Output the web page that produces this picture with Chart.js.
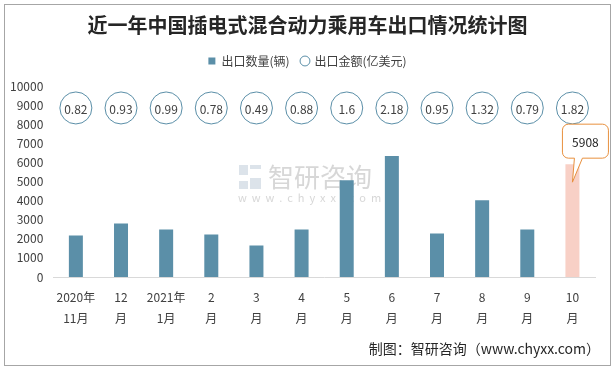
<!DOCTYPE html>
<html lang="zh">
<head>
  <meta charset="UTF-8" />
  <script src="https://cdn.jsdelivr.net/npm/chart.js"></script>
  <title>近一年中国插电式混合动力乘用车出口情况统计图</title>
  <style>
    body { margin: 0; background: #fff; }
    #box { width: 615px; height: 369px; }
  </style>
</head>
<body>
  <div id="box"><canvas id="grafico" width="615" height="369"></canvas></div>

<script>
  // dados
  const meses = [['2020年', '11月'], ['12', '月'], ['2021年', '1月'], ['2', '月'], ['3', '月'], ['4', '月'],
    ['5', '月'], ['6', '月'], ['7', '月'], ['8', '月'], ['9', '月'], ['10', '月']];
  const quantidade = [2170, 2800, 2490, 2230, 1650, 2490, 5070, 6330, 2280, 4020, 2490, 5908];
  const valor = [0.82, 0.93, 0.99, 0.78, 0.49, 0.88, 1.6, 2.18, 0.95, 1.32, 0.79, 1.82];
  const ticksY = [0, 1000, 2000, 3000, 4000, 5000, 6000, 7000, 8000, 9000, 10000];

  const FONTE = '"Noto Sans CJK SC", "Noto Sans", sans-serif';
  const AZUL = '#5b8fa8';
  const ROSA = '#f8d0c6';
  const LINHA_BOLHAS = 8850; // altura fixa das bolhas

  // espaco extra abaixo da legenda
  const margemLegenda = {
    id: 'margemLegenda',
    beforeInit(chart) {
      const fitOriginal = chart.legend.fit;
      chart.legend.fit = function () {
        fitOriginal.bind(chart.legend)();
        this.height += 9;
      };
    }
  };

  const fundo = {
    id: 'fundo',
    beforeDraw(chart) {
      const ctx = chart.ctx;
      ctx.save();
      ctx.fillStyle = '#fff';
      ctx.fillRect(0, 0, chart.width, chart.height);
      ctx.strokeStyle = '#a6a6a6';
      ctx.lineWidth = 1;
      ctx.strokeRect(4.5, 4.5, 606, 361);

      // marca d'agua
      ctx.globalAlpha = 0.5;
      ctx.fillStyle = '#b9c7d6';
      ctx.fillRect(239, 165, 9, 10);
      ctx.fillRect(250, 165, 11, 4);
      ctx.fillRect(250, 178, 11, 11);
      ctx.fillRect(239, 181, 9, 8);
      ctx.fillStyle = '#b0b0b0';
      ctx.font = '26px ' + FONTE;
      ctx.textBaseline = 'middle';
      ctx.fillText('智研咨询', 268, 177);
      ctx.font = '11px ' + FONTE;
      ctx.fillText('w  w  w  .  c  h  y  x  x  .  c  o  m', 238, 198);
      ctx.restore();
    },
    afterDraw(chart) {
      const ctx = chart.ctx;
      ctx.save();
      ctx.fillStyle = '#262626';
      ctx.font = '14px ' + FONTE;
      ctx.textAlign = 'right';
      ctx.textBaseline = 'middle';
      ctx.fillText('制图：智研咨询（www.chyxx.com）', 600, 349);

      // rotulos das bolhas
      const bolhas = chart.getDatasetMeta(1).data;
      ctx.fillStyle = '#404040';
      ctx.textAlign = 'center';
      ctx.font = '12px ' + FONTE;
      bolhas.forEach((p, i) => ctx.fillText(String(valor[i]), p.x, p.y + 1));

      // balao do ultimo mes
      const ult = chart.getDatasetMeta(0).data[quantidade.length - 1];
      const x0 = ult.x - 10, y0 = ult.y - 40, w = 46, h = 34, r = 6;
      ctx.beginPath();
      ctx.moveTo(x0 + r, y0);
      ctx.lineTo(x0 + w - r, y0);
      ctx.arcTo(x0 + w, y0, x0 + w, y0 + r, r);
      ctx.lineTo(x0 + w, y0 + h - r);
      ctx.arcTo(x0 + w, y0 + h, x0 + w - r, y0 + h, r);
      ctx.lineTo(x0 + 20, y0 + h);
      ctx.lineTo(ult.x, ult.y + 18);
      ctx.lineTo(x0 + 12, y0 + h);
      ctx.lineTo(x0 + r, y0 + h);
      ctx.arcTo(x0, y0 + h, x0, y0 + h - r, r);
      ctx.lineTo(x0, y0 + r);
      ctx.arcTo(x0, y0, x0 + r, y0, r);
      ctx.closePath();
      ctx.fillStyle = '#fff';
      ctx.fill();
      ctx.strokeStyle = '#e8903e';
      ctx.lineWidth = 1;
      ctx.stroke();
      ctx.fillStyle = '#262626';
      ctx.fillText(String(quantidade[quantidade.length - 1]), x0 + w / 2, y0 + h / 2 + 1);
      ctx.restore();
    }
  };

  const cores = quantidade.map((v, i) => i === quantidade.length - 1 ? ROSA : AZUL);

  const config = {
    data: {
      labels: meses,
      datasets: [{
        type: 'bar',
        label: '出口数量(辆)',
        data: quantidade,
        backgroundColor: cores,
        barPercentage: 0.62,
        categoryPercentage: 0.5,
        pointStyle: 'rect',
        order: 2
      }, {
        type: 'line',
        label: '出口金额(亿美元)',
        data: valor.map(() => LINHA_BOLHAS),
        showLine: false,
        pointRadius: 16,
        pointHoverRadius: 16,
        pointBackgroundColor: '#fff',
        pointBorderColor: AZUL,
        pointBorderWidth: 1,
        backgroundColor: '#fff',
        borderColor: AZUL,
        pointStyle: 'circle',
        order: 1
      }]
    },
    options: {
      responsive: false,
      animation: false,
      layout: { padding: { left: 0, right: 0, top: 4, bottom: 30 } },
      plugins: {
        title: {
          display: true,
          text: '近一年中国插电式混合动力乘用车出口情况统计图',
          color: '#262626',
          font: { family: FONTE, size: 20, weight: 'bold' },
          padding: { top: 9, bottom: 6 }
        },
        legend: {
          display: true,
          labels: {
            usePointStyle: true,
            boxWidth: 7,
            boxHeight: 7,
            color: '#404040',
            font: { family: FONTE, size: 12 },
            padding: 12,
            sort: (a, b) => a.datasetIndex - b.datasetIndex
          }
        },
        tooltip: { enabled: false }
      },
      scales: {
        x: {
          grid: { display: false, drawTicks: false },
          border: { display: true, color: '#d9d9d9' },
          ticks: {
            color: '#404040',
            font: { family: FONTE, size: 12, lineHeight: 1.75 },
            padding: 10,
            maxRotation: 0,
            autoSkip: false
          }
        },
        y: {
          min: 0,
          max: 10000,
          afterBuildTicks: (axis) => { axis.ticks = ticksY.map(v => ({ value: v })); },
          grid: { display: false, drawTicks: false },
          border: { display: false },
          ticks: {
            color: '#404040',
            font: { family: FONTE, size: 12 },
            padding: 10,
            callback: (v) => String(v)
          }
        },
        margemDireita: {
          type: 'linear',
          position: 'right',
          display: true,
          grid: { display: false, drawTicks: false },
          border: { display: false },
          ticks: { display: false },
          afterFit: (axis) => { axis.width = 20; }
        }
      }
    },
    plugins: [margemLegenda, fundo]
  };

  new Chart(document.getElementById('grafico').getContext('2d'), config);
</script>
</body>
</html>
